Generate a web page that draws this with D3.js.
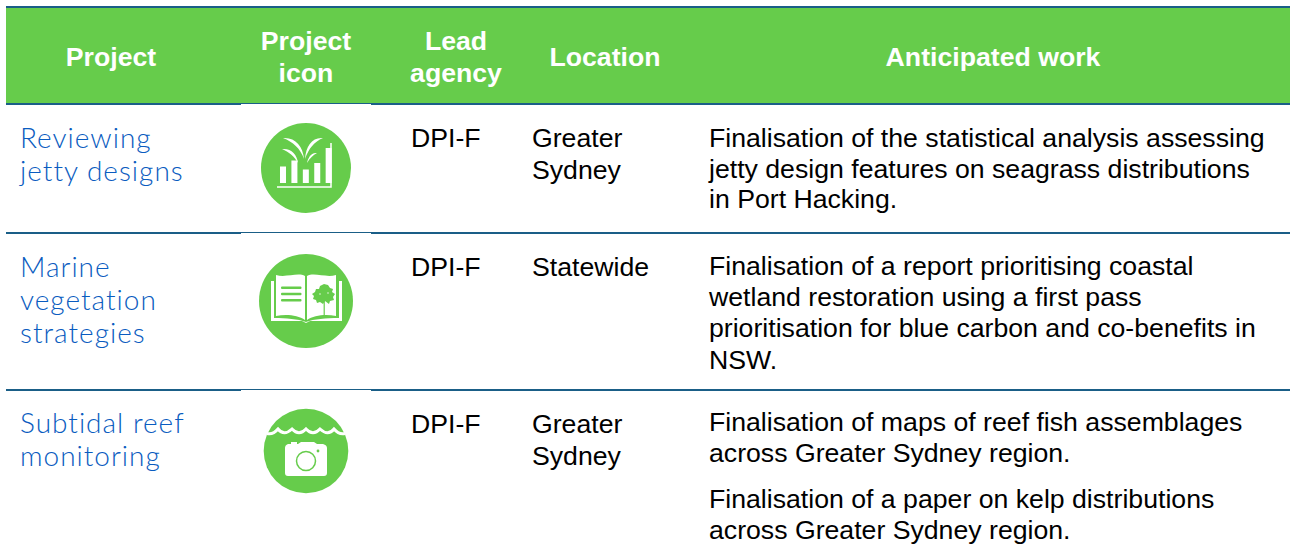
<!DOCTYPE html>
<html>
<head>
<meta charset="utf-8">
<script src="https://cdn.jsdelivr.net/npm/d3@7"></script>
<style>
  html, body { margin: 0; padding: 0; background: #fff; }
  svg { display: block; }
  text { font-family: "Liberation Sans", Arial, sans-serif; }
</style>
</head>
<body>
<div id="chart"></div>
<script>
// Table content
const headers = [["Project"], ["Project", "icon"], ["Lead", "agency"], ["Location"], ["Anticipated work"]];
const projects = [["Reviewing", "jetty designs"], ["Marine", "vegetation", "strategies"], ["Subtidal reef", "monitoring"]];
const agencies = ["DPI-F", "DPI-F", "DPI-F"];
const locations = [["Greater", "Sydney"], ["Statewide"], ["Greater", "Sydney"]];
const work = [
    ["Finalisation of the statistical analysis assessing", "jetty design features on seagrass distributions", "in Port Hacking."],
    ["Finalisation of a report prioritising coastal", "wetland restoration using a first pass", "prioritisation for blue carbon and co-benefits in", "NSW."],
    ["Finalisation of maps of reef fish assemblages", "across Greater Sydney region.", null, "Finalisation of a paper on kelp distributions", "across Greater Sydney region."]
];
// Heights of the bars in the first icon
const iconBars = [16.5, 22.5, 13.5, 20, 35];

const width = 1290, height = 555;
const green = "#66cc4b", rule = "#1a5e87", blue = "#0a5cc0";

const svg = d3.select("#chart").append("svg")
    .attr("width", width)
    .attr("height", height);

// Header band and rules
svg.append("rect").attr("x", 6).attr("y", 7).attr("width", 1284).attr("height", 97).attr("fill", green);
svg.append("rect").attr("x", 6).attr("y", 6).attr("width", 1284).attr("height", 2).attr("fill", rule);

[104, 233, 390].forEach(y => {
    svg.append("rect").attr("x", 6).attr("y", y - 1).attr("width", 235).attr("height", 2).attr("fill", rule);
    svg.append("rect").attr("x", 241).attr("y", y - 1).attr("width", 130).attr("height", 1).attr("fill", rule);
    svg.append("rect").attr("x", 371).attr("y", y - 1).attr("width", 919).attr("height", 2).attr("fill", rule);
});

// Header text
const headX = [111, 306, 456, 605, 993];
const headY = [[66], [50, 82], [50, 82], [66], [66]];
headers.forEach((lines, c) => {
    lines.forEach((t, i) => {
        svg.append("text")
            .attr("x", headX[c]).attr("y", headY[c][i])
            .attr("text-anchor", "middle")
            .attr("fill", "#fff")
            .attr("font-size", 26.67)
            .attr("font-weight", "bold")
            .text(t);
    });
});

// Body text
const projectY = [148, 277, 433];
projects.forEach((lines, r) => {
    lines.forEach((t, i) => {
        svg.append("text")
            .attr("x", 20).attr("y", projectY[r] + i * 33)
            .attr("fill", blue)
            .attr("font-size", 28)
            .attr("font-weight", 300)
            .attr("letter-spacing", 1)
            .style("font-family", "Lato, sans-serif")
            .text(t);
    });
});

const bodyY = [147, 276, 433];
const bodyText = (x, y, t) => svg.append("text")
    .attr("x", x).attr("y", y)
    .attr("fill", "#000")
    .attr("font-size", 26.67)
    .text(t);

agencies.forEach((t, r) => bodyText(411, bodyY[r], t));
locations.forEach((lines, r) => lines.forEach((t, i) => bodyText(532, bodyY[r] + i * 32, t)));
const workY = [[147, 178, 208], [275, 306, 337, 369], [431, 462, null, 508, 539]];
work.forEach((lines, r) => lines.forEach((t, i) => {
    if (t) bodyText(709, workY[r][i], t);
}));

// Icon 1: bars with seagrass
const g1 = svg.append("g").attr("transform", "translate(306,168)");
g1.append("circle").attr("r", 45).attr("fill", green);
const barX = d3.scaleBand().domain(d3.range(iconBars.length)).range([-26, 24]).paddingInner(0.62);
const barY = d3.scaleLinear().domain([0, 35]).range([15, -20]);
g1.selectAll(".bar").data(iconBars).enter().append("rect")
    .attr("class", "bar")
    .attr("x", (d, i) => barX(i))
    .attr("y", d => barY(d))
    .attr("width", 6)
    .attr("height", d => barY(0) - barY(d))
    .attr("fill", "#fff");
g1.append("path")
    .attr("d", "M-29,19H25V-25")
    .attr("fill", "none").attr("stroke", "#fff").attr("stroke-width", 1.5);
g1.append("path")
    .attr("fill", "#fff")
    .attr("d", "M-23,-30C-11,-31 -3,-22 -2,-9C-6,-20 -13,-26 -23,-30Z M17,-30C6,-31 0,-22 -1,-9C3,-20 8,-26 17,-30Z M-24,-19C-15,-20 -9,-14 -8,-5C-12,-12 -17,-16 -24,-19Z M11,-15C5,-16 2,-10 1,-5C4,-10 7,-13 11,-15Z");

// Icon 2: open book with a tree
const g2 = svg.append("g").attr("transform", "translate(306,301)");
g2.append("circle").attr("r", 47).attr("fill", green);
g2.append("path").attr("fill", "#fff")
    .attr("d", "M-35,-20H-32V17C-20,17 -8,18 0,21C8,18 20,17 33,17V-20H36V20H4L0,22L-4,20H-35Z");
g2.append("path").attr("fill", "#fff")
    .attr("d", "M-30,-26C-20,-23 -8,-29 -1,-25V19C-8,14 -20,13 -30,15Z M1,-25C8,-29 20,-23 30,-26V15C20,13 8,14 1,19Z");
g2.selectAll(".ln").data([0, 1, 2]).enter().append("rect")
    .attr("class", "ln")
    .attr("x", -25).attr("y", d => -14.5 + d * 6.2)
    .attr("width", 20.5).attr("height", 2.6).attr("rx", 1)
    .attr("fill", green);
g2.append("rect").attr("x", 17.6).attr("y", -2).attr("width", 1.2).attr("height", 17).attr("fill", green);
g2.append("path").attr("fill", green)
    .attr("d", "M18,-17L22,-16L24,-13L27,-12L26,-9L29,-7L27,-4L28,-1L24,0L23,3L19,0L17,3L14,1L11,2L10,-1L7,-2L8,-5L6,-7L9,-9L10,-12L13,-12L14,-15Z");
g2.selectAll(".speck").data([[14, -7], [22, -8]]).enter().append("circle")
    .attr("class", "speck")
    .attr("cx", d => d[0]).attr("cy", d => d[1]).attr("r", 0.7)
    .attr("fill", "#fff");

// Icon 3: camera under water
const g3 = svg.append("g").attr("transform", "translate(306,451)");
g3.append("circle").attr("r", 42.3).attr("fill", green);
g3.append("path")
    .attr("fill", "none").attr("stroke", "#fff").attr("stroke-width", 3)
    .attr("d", "M-39,-17.5Q-33,-16 -28,-22Q-22,-14.5 -14,-22Q-7,-14.5 0,-22Q7,-14.5 14,-22Q22,-14.5 28,-22Q33,-16 39,-17.5");
g3.append("path").attr("fill", "#fff")
    .attr("d", "M-21,-3Q-21,-6 -18,-7H-15V-9H-9V-7H-8L-5,-9H8L11,-7H17Q21,-6 21,-3V22Q21,25 18,25H-18Q-21,25 -21,22Z");
g3.append("circle").attr("cx", 0).attr("cy", 10).attr("r", 9.5)
    .attr("fill", "none").attr("stroke", green).attr("stroke-width", 1.5);
g3.append("circle").attr("cx", 12).attr("cy", 0).attr("r", 1.4).attr("fill", green);
</script>
</body>
</html>
